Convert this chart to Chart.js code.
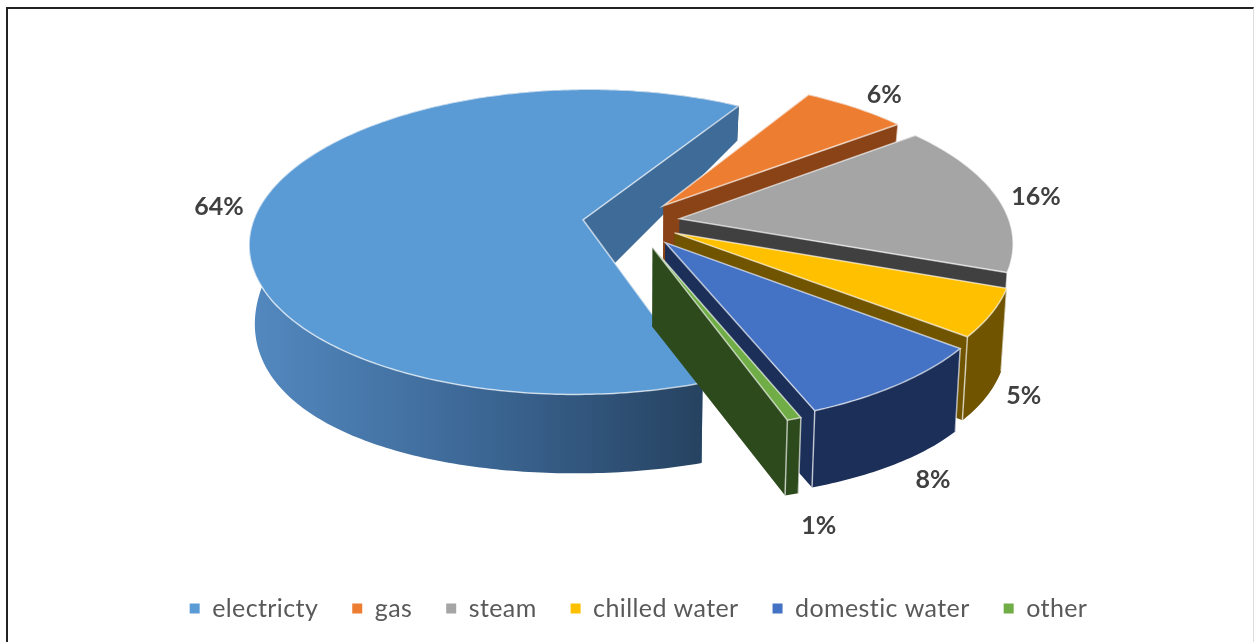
<!DOCTYPE html>
<html>
<head>
<meta charset="utf-8">
<title>Energy share</title>
<script src="https://cdn.jsdelivr.net/npm/chart.js@4"></script>
<style>
  html, body { margin: 0; background: #fff; overflow: hidden; }
  #wrap { position: absolute; left: 6px; top: 7px; width: 1248px; height: 635px; border-top: 2px solid #222; border-left: 2px solid #222; border-right: 1px solid #ddd; box-sizing: border-box; }
  #chart { position: fixed; left: 0; top: 0; }
</style>
</head>
<body>
<div id="wrap"></div>
<canvas id="chart" width="1255" height="642"></canvas>
<script>
const categories = ['electricty', 'gas', 'steam', 'chilled water', 'domestic water', 'other'];
const shares = [64, 6, 16, 5, 8.4, 0.6];
const topColors = ['#5b9bd5', '#ed7d31', '#a5a5a5', '#ffc000', '#4472c4', '#70ad47'];
const faceColors = ['#3e6b97', '#8a4316', '#404040', '#705400', '#1b2f58', '#2d4a1c'];

// the look of the tilted pie, fitted by eye
const view = {
  cx: 631.5, yTop: 222, yLow: 297, rx: 330, ryTop: 150, ryLow: 179, k: 0.145, shrink: 0.985,
  explode: [0.148, 0.148, 0.148, 0.148, 0.168, 0.178],
  labelRadius: [1.273, 1.3, 1.267, 1.24, 1.29, 1.36],
  labelTurn: [-1, 0.5, 1, -2.6, -1, 0.4]
};

function project(u, v, low) {
  const s = 1 / (1 - view.k * v);
  const x = view.rx * u * s;
  return low ? [view.cx + x * view.shrink, view.yLow + view.ryLow * v] : [view.cx + x, view.yTop + view.ryTop * v * s];
}

function tracePath(ctx, points) {
  ctx.beginPath();
  points.forEach((p, i) => i ? ctx.lineTo(p[0], p[1]) : ctx.moveTo(p[0], p[1]));
  ctx.closePath();
}

function sliceRim(arc) {
  const rim = [];
  const steps = Math.ceil((arc.endAngle - arc.startAngle) / 0.015);
  for (let i = 0; i <= steps; i++) {
    const a = arc.startAngle + (arc.endAngle - arc.startAngle) * i / steps;
    rim.push([Math.cos(a), Math.sin(a)]);
  }
  return rim;
}

const pie3d = {
  id: 'pie3d',
  beforeDraw(chart) {
    chart.ctx.letterSpacing = '0.4px';
  },
  beforeUpdate(chart) {
    chart.ctx.letterSpacing = '0.4px';
  },
  beforeDatasetsDraw(chart) {
    const ctx = chart.ctx;
    chart.getDatasetMeta(0).data.forEach((arc, i) => {
      const mid = (arc.startAngle + arc.endAngle) / 2;
      const ox = Math.cos(mid) * view.explode[i];
      const oy = Math.sin(mid) * view.explode[i];
      const rim = sliceRim(arc).map(p => [p[0] + ox, p[1] + oy]);
      const rimTop = rim.map(p => project(p[0], p[1], false));
      const rimLow = rim.map(p => project(p[0], p[1], true));
      const apexTop = project(ox, oy, false);
      const apexLow = project(ox, oy, true);
      const last = rim.length - 1;

      // hidden cut face, curved wall, visible cut face, then the top
      ctx.fillStyle = faceColors[i];
      tracePath(ctx, [apexTop, rimTop[0], rimLow[0], apexLow]);
      ctx.fill();

      let wall = faceColors[i];
      if (i === 0) {
        wall = ctx.createLinearGradient(250, 0, 705, 0);
        wall.addColorStop(0, '#5389c0');
        wall.addColorStop(0.5, '#3c6795');
        wall.addColorStop(1, '#264260');
      }
      ctx.fillStyle = wall;
      // steam's curved wall sits behind chilled water, no part of it shows
      if (i !== 2) {
        tracePath(ctx, rimTop.concat(rimLow.slice().reverse()));
        ctx.fill();
      }

      ctx.fillStyle = faceColors[i];
      tracePath(ctx, [apexTop, rimTop[last], rimLow[last], apexLow]);
      ctx.fill();

      ctx.strokeStyle = 'rgba(255,255,255,0.65)';
      ctx.lineWidth = 1.5;
      if (i > 0) {
        [0, last].forEach(n => {
          ctx.beginPath();
          ctx.moveTo(rimTop[n][0], rimTop[n][1]);
          ctx.lineTo(rimLow[n][0], rimLow[n][1]);
          ctx.stroke();
        });
      }
      ctx.fillStyle = topColors[i];
      tracePath(ctx, [apexTop].concat(rimTop));
      ctx.fill();
      ctx.stroke();
    });

    ctx.letterSpacing = '0px';
    ctx.font = 'bold 25px Lato';
    ctx.fillStyle = '#404040';
    ctx.textAlign = 'center';
    ctx.textBaseline = 'middle';
    chart.getDatasetMeta(0).data.forEach((arc, i) => {
      const mid = (arc.startAngle + arc.endAngle) / 2 + view.labelTurn[i] * Math.PI / 180;
      const u = Math.cos(mid) * view.labelRadius[i];
      const v = Math.sin(mid) * view.labelRadius[i];
      const p = project(u, v, Math.sin(mid) > 0.3);
      ctx.fillText(Math.round(shares[i]) + '%', p[0], p[1]);
    });
    return false;
  }
};

new Chart(document.getElementById('chart'), {
  type: 'pie',
  data: {
    labels: categories,
    datasets: [{ data: shares, backgroundColor: topColors, borderWidth: 0 }]
  },
  options: {
    responsive: false,
    animation: false,
    rotation: 160.5,
    layout: { padding: { left: 22, bottom: 11 } },
    plugins: {
      tooltip: { enabled: false },
      legend: {
        position: 'bottom',
        labels: {
          usePointStyle: true,
          pointStyle: 'rect',
          boxWidth: 10,
          boxHeight: 10,
          padding: 34,
          color: '#595959',
          font: { family: 'Lato', size: 25 }
        }
      }
    }
  },
  plugins: [pie3d]
});
</script>
</body>
</html>
